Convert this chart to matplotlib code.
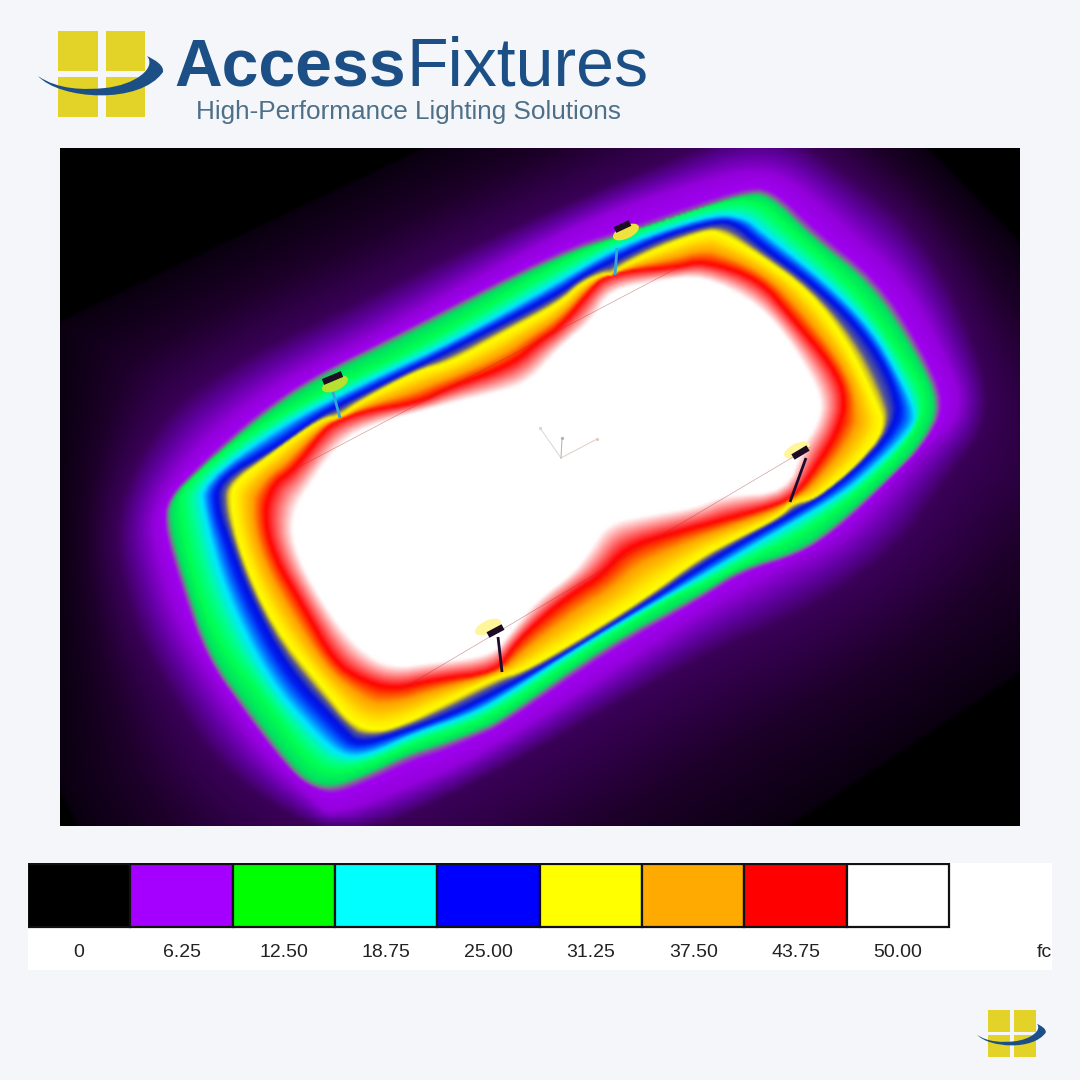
import numpy as np
import matplotlib
matplotlib.use('Agg')
import matplotlib.pyplot as plt
import matplotlib.patches as patches
from matplotlib.colors import LinearSegmentedColormap
from matplotlib.path import Path

plt.rcParams['font.family'] = ['Liberation Sans', 'DejaVu Sans']

# isolux contours, outermost first (image pixels)
black_x = [55, 770, 1278, 300, 110, 55]
black_y = [320, -20, 505, 1160, 900, 790]
dark_x = [110, 160, 227, 327, 480, 640, 770, 860, 920, 967, 997, 947, 900, 800, 700, 470, 340, 227, 167, 127]
dark_y = [513, 415, 365, 315, 240, 170, 120, 181, 231, 315, 415, 481, 550, 617, 657, 790, 845, 780, 693, 613]
purple_x = [150, 190, 237, 293, 377, 500, 600, 680, 745, 787, 843, 903, 947, 965, 917, 890, 843, 767, 700, 620, 480, 400, 330, 313, 267, 220, 180, 160]
purple_y = [513, 455, 412, 375, 335, 265, 215, 188, 170, 176, 226, 279, 359, 411, 457, 487, 539, 575, 612, 665, 755, 790, 817, 800, 760, 693, 627, 567]
edge_x = [167, 167, 203, 260, 313, 400, 560, 627, 693, 743, 770, 813, 873, 917, 943, 923, 893, 867, 833, 800, 740, 700, 607, 500, 477, 440, 407, 367, 333, 313, 293, 247, 207, 183]
edge_y = [530, 500, 465, 415, 378, 335, 253, 233, 210, 193, 191, 235, 281, 348, 405, 445, 475, 500, 530, 553, 570, 597, 647, 723, 733, 747, 757, 777, 790, 787, 773, 713, 657, 583]
green_x = [180, 180, 250, 337, 410, 560, 610, 660, 727, 760, 793, 860, 903, 930, 910, 883, 850, 800, 750, 700, 673, 573, 500, 455, 412, 367, 330, 303, 260, 220, 193]
green_y = [513, 487, 430, 383, 350, 263, 240, 220, 200, 201, 231, 291, 355, 401, 441, 471, 500, 537, 560, 587, 597, 660, 712, 732, 745, 767, 775, 757, 697, 647, 580]
cyan_x = [203, 200, 283, 343, 383, 450, 560, 610, 660, 717, 747, 760, 827, 873, 900, 917, 913, 860, 833, 790, 750, 700, 590, 500, 467, 417, 367, 340, 312, 267, 223]
cyan_y = [513, 483, 423, 393, 373, 342, 280, 250, 230, 213, 217, 228, 281, 328, 375, 411, 430, 481, 500, 525, 548, 578, 640, 700, 717, 733, 757, 757, 732, 680, 590]
blue_x = [217, 217, 277, 317, 343, 383, 450, 560, 580, 617, 660, 707, 733, 760, 810, 860, 893, 900, 840, 787, 750, 700, 647, 567, 500, 450, 400, 357, 343, 287, 247, 227]
blue_y = [510, 480, 447, 417, 403, 383, 350, 293, 277, 258, 237, 223, 220, 245, 281, 328, 381, 425, 485, 517, 537, 567, 603, 653, 690, 715, 733, 745, 730, 670, 593, 537]
yellow_x = [230, 233, 267, 293, 323, 340, 357, 417, 450, 500, 560, 580, 603, 613, 620, 660, 707, 720, 760, 810, 847, 873, 887, 857, 833, 813, 793, 780, 733, 700, 647, 567, 520, 497, 433, 407, 377, 350, 327, 273, 240]
yellow_y = [503, 483, 457, 437, 418, 417, 403, 370, 363, 335, 303, 283, 273, 275, 267, 247, 230, 232, 255, 291, 341, 395, 428, 465, 485, 500, 502, 517, 540, 557, 597, 647, 673, 677, 710, 723, 733, 723, 693, 627, 553]
red_x = [263, 273, 293, 323, 337, 367, 417, 450, 510, 540, 560, 593, 603, 627, 677, 703, 760, 793, 833, 847, 837, 807, 793, 777, 723, 673, 627, 600, 573, 540, 513, 497, 433, 393, 360, 333, 303, 273]
red_y = [513, 483, 470, 430, 420, 410, 403, 387, 365, 340, 327, 287, 277, 270, 267, 260, 278, 318, 365, 398, 435, 481, 497, 505, 520, 533, 547, 577, 593, 620, 647, 673, 680, 690, 680, 662, 607, 557]
white_x = [290, 317, 337, 363, 450, 500, 530, 560, 593, 610, 660, 703, 760, 793, 823, 817, 803, 787, 723, 697, 647, 607, 590, 573, 537, 510, 493, 433, 390, 360, 330, 297]
white_y = [517, 473, 447, 427, 403, 392, 382, 347, 320, 290, 280, 275, 305, 345, 398, 425, 445, 492, 495, 507, 515, 523, 550, 573, 600, 633, 655, 663, 668, 650, 615, 557]

contours = [(dark_x, dark_y), (purple_x, purple_y), (edge_x, edge_y), (green_x, green_y),
            (cyan_x, cyan_y), (blue_x, blue_y), (yellow_x, yellow_y), (red_x, red_y), (white_x, white_y)]

# legend
legend_labels = ['0', '6.25', '12.50', '18.75', '25.00', '31.25', '37.50', '43.75', '50.00']
legend_colors = ['#000000', '#a500ff', '#00ff00', '#00ffff', '#0000ff', '#ffff00', '#ffaa00', '#ff0000', '#ffffff']

# fixtures: pole foot, pole top, head bar ends, glow centre
pole_x0 = [340, 615, 502, 790]
pole_y0 = [418, 275, 672, 502]
pole_x1 = [333, 617, 498, 806]
pole_y1 = [392, 248, 637, 458]
bar_x0 = [323, 615, 488, 793]
bar_y0 = [382, 230, 635, 457]
bar_x1 = [342, 630, 503, 808]
bar_y1 = [374, 223, 627, 448]
glow_x = [335, 626, 488, 797]
glow_y = [384, 232, 627, 450]
pole_colors = ['#35a5dc', '#35a5dc', '#1c0c30', '#1c0c30']
glow_colors = ['#b8e030', '#f0e040', '#fff59a', '#fff59a']

BG = '#f4f6f9'
GOLD = '#e3d228'
NAVY = '#1c4f85'


def chaikin(x, y, n=2):
    p = np.column_stack([x, y]).astype(float)
    for _ in range(n):
        q = np.roll(p, -1, axis=0)
        p = np.column_stack([0.75 * p + 0.25 * q, 0.25 * p + 0.75 * q]).reshape(-1, 2)
    return p


def seg_distance(px, py, poly):
    best = np.full(px.shape, np.inf)
    for a, b in zip(poly, np.roll(poly, -1, axis=0)):
        d = b - a
        t = np.clip(((px - a[0]) * d[0] + (py - a[1]) * d[1]) / max(d @ d, 1e-9), 0, 1)
        best = np.minimum(best, (px - a[0] - t * d[0]) ** 2 + (py - a[1] - t * d[1]) ** 2)
    return np.sqrt(best)


# build the field between neighbouring contours
gx, gy = np.meshgrid(np.arange(60, 1021, 2.0), np.arange(148, 827, 2.0))
# the black cut-off has hard straight edges, so it stays unsmoothed
polys = [np.column_stack([black_x, black_y]).astype(float)] + [chaikin(x, y) for x, y in contours]
pts = np.column_stack([gx.ravel(), gy.ravel()])
inside = np.array([Path(p).contains_points(pts).reshape(gx.shape) for p in polys])
dist = np.array([seg_distance(gx, gy, p) for p in polys])
count = inside.sum(axis=0)
field = np.zeros(gx.shape)
for k in range(1, len(polys)):
    m = count == k
    field[m] = (k - 1) + dist[k - 1][m] / (dist[k - 1][m] + dist[k][m])
field[count == len(polys)] = len(polys) - 1

nodes = [(0, '#000000'), (0.03, '#0a0010'), (0.5, '#1c0028'), (1, '#3a0058'), (1.5, '#6000a0'), (2, '#9400dc'),
         (2.75, '#a000f0'), (3, '#7a7a8a'), (3.25, '#00e060'), (4, '#00ff50'), (4.5, '#00ff90'), (5, '#00e8ff'),
         (5.4, '#0070ff'), (5.75, '#0020f0'), (6, '#0010e0'), (6.5, '#5a5a90'), (6.75, '#d0c020'), (7, '#ffff00'),
         (7.2, '#ffe800'), (7.6, '#ffa000'), (8, '#ff0000'), (9, '#ffffff')]
cmap = LinearSegmentedColormap.from_list('lux', [(v / 9, c) for v, c in nodes], N=1024)

fig = plt.figure(figsize=(10.8, 10.8), dpi=100, facecolor=BG)
ax = fig.add_axes([0, 0, 1, 1])
ax.axis('off')

ax.imshow(field, cmap=cmap, vmin=0, vmax=9, extent=(60, 1020, 826, 148), interpolation='bicubic', aspect='auto')
ax.set_xlim(0, 1080)
ax.set_ylim(1080, 0)

# site outline
ax.plot([293, 683], [470, 265], color='#a03030', lw=0.5, alpha=0.45)
ax.plot([400, 810], [690, 447], color='#a03030', lw=0.5, alpha=0.45)

# little axis marker
for ex, ey, c in [(540, 428, '#d8d8d0'), (597, 439, '#e0ccc4'), (562, 438, '#b0b0b0')]:
    ax.plot([561, ex], [458, ey], color=c, lw=0.7)
    ax.plot(ex, ey, 'o', ms=1.3, color=c)

# fixtures
for i in range(4):
    ax.add_patch(patches.Ellipse((glow_x[i], glow_y[i]), 28, 13, angle=-25, color=glow_colors[i], lw=0))
    ax.plot([pole_x0[i], pole_x1[i]], [pole_y0[i], pole_y1[i]], color=pole_colors[i], lw=2.0, solid_capstyle='butt')
    ax.plot([bar_x0[i], bar_x1[i]], [bar_y0[i], bar_y1[i]], color='#1c0c24', lw=4.5, solid_capstyle='butt')


def draw_logo(x0, y0, s):
    for rx, ry, w, h in [(58, 31, 40, 40), (106, 31, 39, 40), (58, 77, 40, 40), (106, 77, 39, 40)]:
        ax.add_patch(patches.Rectangle((x0 + (rx - 58) * s, y0 + (ry - 31) * s), w * s, h * s, color=GOLD, lw=0))
    verts = [(38, 76), (60, 100), (140, 105), (163, 72), (164, 65), (155, 60), (147, 56),
             (157, 68), (135, 85), (105, 88), (85, 90), (58, 90), (38, 76)]
    codes = [Path.MOVETO] + [Path.CURVE4] * 12
    verts = [(x0 + (vx - 58) * s, y0 + (vy - 31) * s) for vx, vy in verts]
    ax.add_patch(patches.PathPatch(Path(verts, codes), facecolor=NAVY, edgecolor='none'))


draw_logo(58, 31, 1)
draw_logo(988, 1010, 0.55)

ax.text(174, 85, 'Access', fontsize=47.5, fontweight='bold', color=NAVY, ha='left', va='baseline')
ax.text(406, 85, 'Fixtures', fontsize=49, color=NAVY, ha='left', va='baseline')
ax.text(196, 119, 'High-Performance Lighting Solutions', fontsize=18.8, color='#4d6f88', ha='left', va='baseline')

# legend strip
lax = fig.add_axes([28 / 1080, 1 - 970 / 1080, 1024 / 1080, 107 / 1080], facecolor='white')
cell = 102.35
lax.set_xlim(0, 1024 / cell)
lax.set_ylim(-43 / 63, 1 + 1 / 63)
lax.bar(np.arange(len(legend_colors)) + 0.5, 1, width=1, color=legend_colors, edgecolor='#111111', linewidth=1.6)
for i, lab in enumerate(legend_labels):
    lax.text(i + 0.5, -0.4, lab, ha='center', va='center', fontsize=14, color='#222222')
lax.text(1024 / cell - 0.005, -0.4, 'fc', ha='right', va='center', fontsize=14, color='#222222')
lax.set_xticks([])
lax.set_yticks([])
for s in lax.spines.values():
    s.set_visible(False)

fig.savefig('out.png', dpi=100, facecolor=BG)
